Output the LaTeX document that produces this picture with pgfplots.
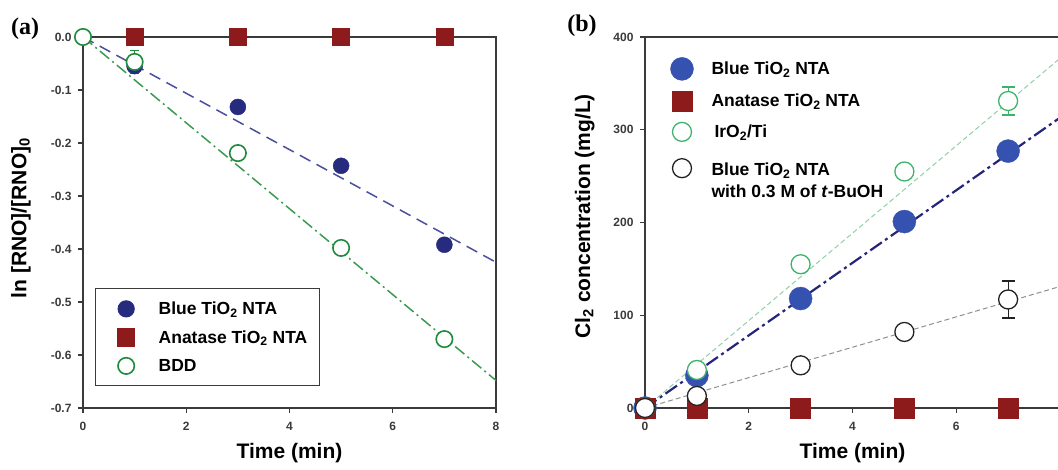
\documentclass[border=0pt]{standalone}
\usepackage{pgfplots}
\pgfplotsset{compat=1.18}
\usepackage{fontspec}
\setmainfont{Liberation Sans}
\newfontfamily\panelfont{Liberation Serif}
\definecolor{axgray}{HTML}{3A3A3A}
\definecolor{navyA}{HTML}{262B7E}
\definecolor{navyline}{HTML}{4B4F9C}
\definecolor{redsq}{HTML}{8E1B1B}
\definecolor{greenA}{HTML}{1E8C3C}
\definecolor{greenlineA}{HTML}{3A9A50}
\definecolor{blueB}{HTML}{3552B0}
\definecolor{navylineB}{HTML}{25257A}
\definecolor{greenB}{HTML}{3DB36A}
\definecolor{greenlineB}{HTML}{8FD0A6}
\definecolor{blackB}{HTML}{222222}
\definecolor{grayline}{HTML}{909090}
\pgfplotsset{
  myax/.style={
    scale only axis, clip=false,
    tick align=outside, tick pos=left,
    axis line style={line width=1.3pt, draw=axgray},
    major tick length=5pt,
    every tick/.style={line width=1.2pt, draw=axgray},
    tick label style={font=\fontsize{12}{12}\selectfont\bfseries, text=axgray},
    xticklabel style={yshift=-6pt},
    yticklabel style={xshift=-3pt},
    label style={font=\fontsize{21}{21}\selectfont\bfseries},
    legend cell align=left,
  },
  limgA/.style={legend image code/.code={\path (-20pt,0pt); \draw[##1] plot coordinates {(0pt,0pt)};}},
  limgB/.style={legend image code/.code={\path (-17pt,0pt); \draw[##1] plot coordinates {(0pt,0pt)};}},
}
\begin{document}
\begin{tikzpicture}
\useasboundingbox (0pt,0pt) rectangle (1058pt,469pt);
\clip (0pt,0pt) rectangle (1058pt,469pt);

% ---------------- panel (a) ----------------
\begin{axis}[myax,
  at={(83pt,61pt)}, anchor=south west, width=413pt, height=371pt,
  xmin=0, xmax=8, ymin=-0.7, ymax=0,
  xtick={0,2,4,6,8}, xticklabels={0,2,4,6,8},
  ytick={-0.7,-0.6,-0.5,-0.4,-0.3,-0.2,-0.1,0},
  yticklabels={-0.7,-0.6,-0.5,-0.4,-0.3,-0.2,-0.1,0.0},
  xlabel={Time (min)},
  ylabel={ln [RNO]/[RNO]\textsubscript{0}},
  xlabel style={at={(axis description cs:0.5,0)}, anchor=center, yshift=-45pt},
  ylabel style={at={(axis description cs:-0.15,0.512)}, anchor=center},
  legend style={at={(rel axis cs:0.029,0.323)}, anchor=north west,
    draw=axgray, line width=1.2pt, fill=white,
    font=\fontsize{17.5}{21}\selectfont\bfseries, row sep=10.5pt,
    inner xsep=10pt, inner ysep=11pt,
    /tikz/every odd column/.append style={column sep=22pt}},
]
% fit lines
\addplot[forget plot, navyline, line width=1.5pt, dash pattern=on 12pt off 7pt]
  coordinates {(0,0) (8,-0.425)};
\addplot[forget plot, greenlineA, line width=1.5pt, dash pattern=on 12pt off 4pt on 2pt off 4pt]
  coordinates {(0,0) (8,-0.648)};
% error bar BDD
\addplot[forget plot, only marks, mark=none, color=greenA,
  error bars/.cd, y dir=both, y explicit,
  error bar style={line width=1.2pt, draw=greenA},
  error mark options={rotate=90, mark size=4.5pt, line width=1.2pt, draw=greenA}]
  coordinates {(1,-0.047) +- (0,0.022)};
\addplot[only marks, limgA, mark=*, mark size=8pt, mark options={fill=navyA, draw=navyA}]
  coordinates {(0,0) (1,-0.055) (3,-0.132) (5,-0.243) (7,-0.392)};
\addlegendentry{Blue TiO\textsubscript{2} NTA}
\addplot[only marks, limgA, mark=square*, mark size=8.5pt, mark options={fill=redsq, draw=redsq}]
  coordinates {(1,0) (3,0) (5,0) (7,0)};
\addlegendentry{Anatase TiO\textsubscript{2} NTA}
\addplot[only marks, limgA, mark=*, mark size=8.2pt, mark options={fill=white, draw=greenA, line width=1.6pt}]
  coordinates {(0,0) (1,-0.047) (3,-0.219) (5,-0.398) (7,-0.570)};
\addlegendentry{BDD}
\end{axis}

% ---------------- panel (b) ----------------
\begin{axis}[myax,
  at={(645pt,61pt)}, anchor=south west, width=415pt, height=371pt,
  xmin=0, xmax=8, ymin=0, ymax=400,
  xtick={0,2,4,6}, xticklabels={0,2,4,6},
  ytick={0,100,200,300,400}, yticklabels={0,100,200,300,400},
  xlabel={Time (min)},
  ylabel={Cl\textsubscript{2} concentration (mg/L)},
  xlabel style={at={(axis description cs:0.5,0)}, anchor=center, yshift=-45pt},
  ylabel style={at={(axis description cs:-0.145,0.517)}, anchor=center},
  legend style={at={(rel axis cs:0.04,0.951)}, anchor=north west,
    draw=none, fill=none,
    font=\fontsize{17.5}{22}\selectfont\bfseries, row sep=11pt,
    /tikz/every odd column/.append style={column sep=16pt}},
]
\addplot[forget plot, navylineB, line width=2.2pt, dash pattern=on 14pt off 4pt on 3pt off 4pt]
  coordinates {(0,0) (8,313)};
\addplot[forget plot, greenlineB, line width=1pt, dash pattern=on 5pt off 3pt]
  coordinates {(0,0) (8,377)};
\addplot[forget plot, grayline, line width=1pt, dash pattern=on 5pt off 3pt]
  coordinates {(0,0) (8,131)};
\addplot[forget plot, only marks, mark=none, color=greenB,
  error bars/.cd, y dir=both, y explicit,
  error bar style={line width=1.2pt, draw=greenB},
  error mark options={rotate=90, mark size=6.5pt, line width=1.2pt, draw=greenB}]
  coordinates {(7,331) +- (0,15)};
\addplot[forget plot, only marks, mark=none, color=blackB,
  error bars/.cd, y dir=both, y explicit,
  error bar style={line width=1.2pt, draw=blackB},
  error mark options={rotate=90, mark size=6.5pt, line width=1.2pt, draw=blackB}]
  coordinates {(7,117) +- (0,20)};
\addplot[only marks, limgB, mark=*, mark size=11.5pt, mark options={fill=blueB, draw=blueB}]
  coordinates {(0,0) (1,35) (3,118) (5,201) (7,277)};
\addlegendentry{Blue TiO\textsubscript{2} NTA}
\addplot[only marks, limgB, mark=square*, mark size=10pt, mark options={fill=redsq, draw=redsq}]
  coordinates {(0,0) (1,0) (3,0) (5,0) (7,0)};
\addlegendentry{Anatase TiO\textsubscript{2} NTA}
\addplot[only marks, limgB, mark=*, mark size=9.5pt, mark options={fill=white, draw=greenB, line width=1.3pt}]
  coordinates {(0,0) (1,41) (3,155) (5,255) (7,331)};
\addlegendentry{\hspace{3pt}IrO\textsubscript{2}/Ti}
\addplot[only marks, limgB, mark=*, mark size=9.5pt, mark options={fill=white, draw=blackB, line width=1.3pt}]
  coordinates {(0,0) (1,13) (3,46) (5,82) (7,117)};
\addlegendentry[anchor=north west, yshift=16pt]{\begin{tabular}{@{}l@{}}\rule{0pt}{21.5pt}Blue TiO\textsubscript{2} NTA\\with 0.3 M of \textit{t}-BuOH\end{tabular}}
\end{axis}

\node[font=\fontsize{24}{24}\selectfont\panelfont\bfseries, anchor=center] at (25pt,440pt) {(a)};
\node[font=\fontsize{24}{24}\selectfont\panelfont\bfseries, anchor=center] at (582pt,443pt) {(b)};
\end{tikzpicture}
\end{document}
